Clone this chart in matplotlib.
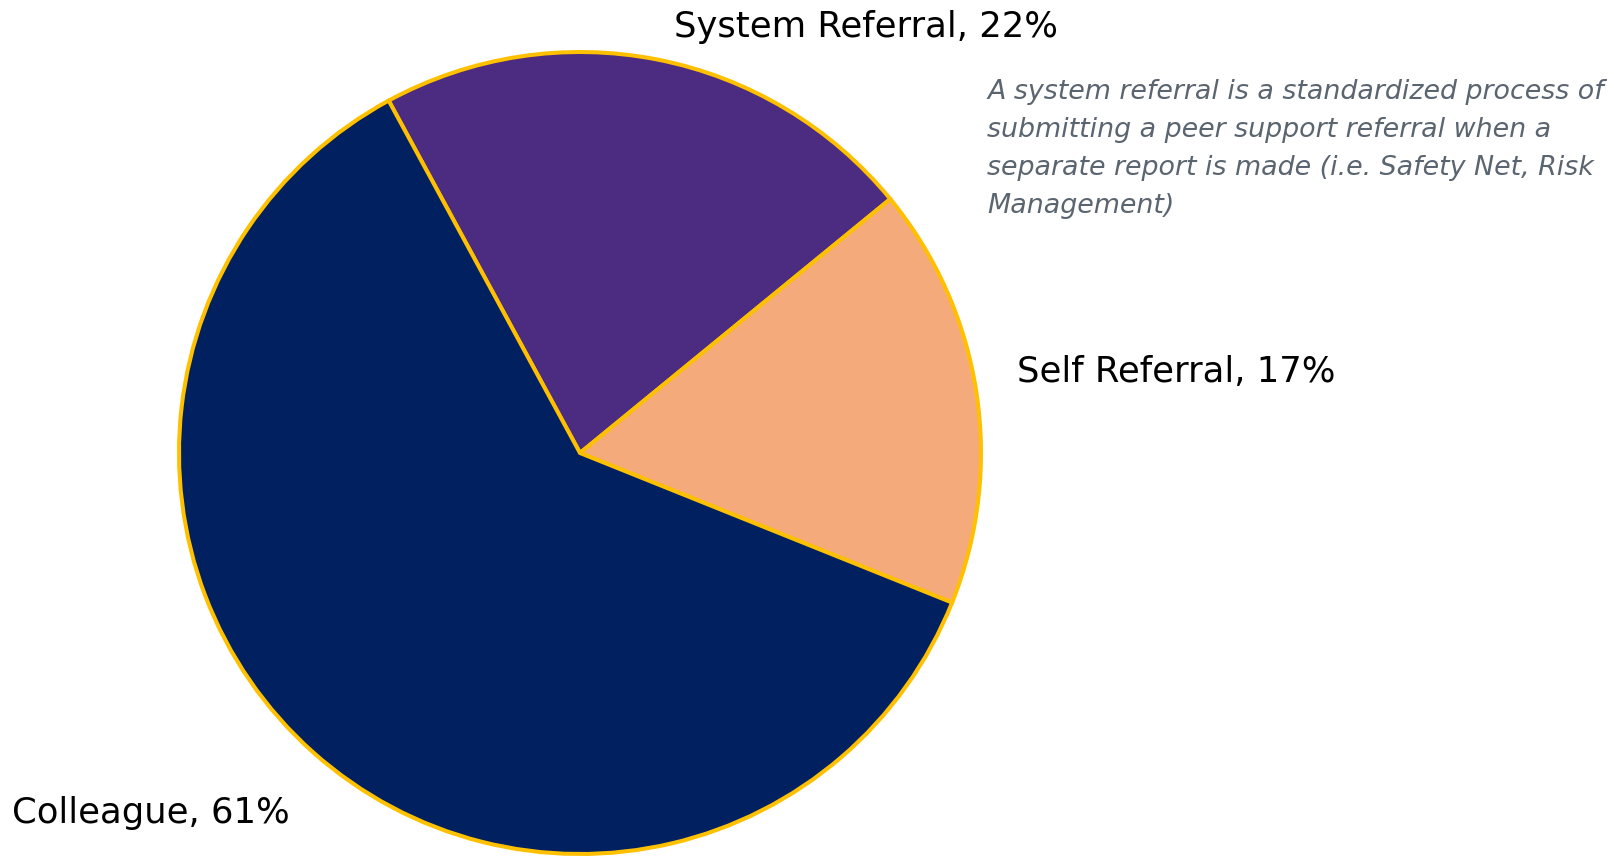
import matplotlib
matplotlib.use("Agg")
import matplotlib.pyplot as plt

# referral sources, clockwise from the upper left boundary
labels = ["System Referral", "Self Referral", "Colleague"]
shares = [22, 17, 61]
colors = ["#4B2C80", "#F4AA7B", "#002060"]

note_lines = ["A system referral is a standardized process of",
              "submitting a peer support referral when a",
              "separate report is made (i.e. Safety Net, Risk",
              "Management)"]

W, H = 1614, 857
fig = plt.figure(figsize=(W / 100, H / 100), dpi=100)
ax = fig.add_axes([0, 0, 1, 1])

ax.pie(shares, colors=colors, startangle=118.5, counterclock=False,
       center=(580, H - 453), radius=401, frame=True,
       wedgeprops=dict(edgecolor="#FFC000", linewidth=2.9))
ax.set_xlim(0, W)
ax.set_ylim(0, H)
ax.axis("off")

# category labels, baseline positions in pixels from the top
pos = {"System Referral": (674, 37), "Self Referral": (1017, 382), "Colleague": (12, 823)}
for lab, v in zip(labels, shares):
    x, y = pos[lab]
    ax.text(x, H - y, f"{lab}, {v}%", fontsize=25.5,
            ha="left", va="baseline", color="black")

# explanatory note, one line at a time
for i, line in enumerate(note_lines):
    ax.text(987, H - (99 + 38 * i), line, fontsize=19.4, style="italic",
            color="#5B6570", ha="left", va="baseline")

fig.savefig("out.png", dpi=100)
